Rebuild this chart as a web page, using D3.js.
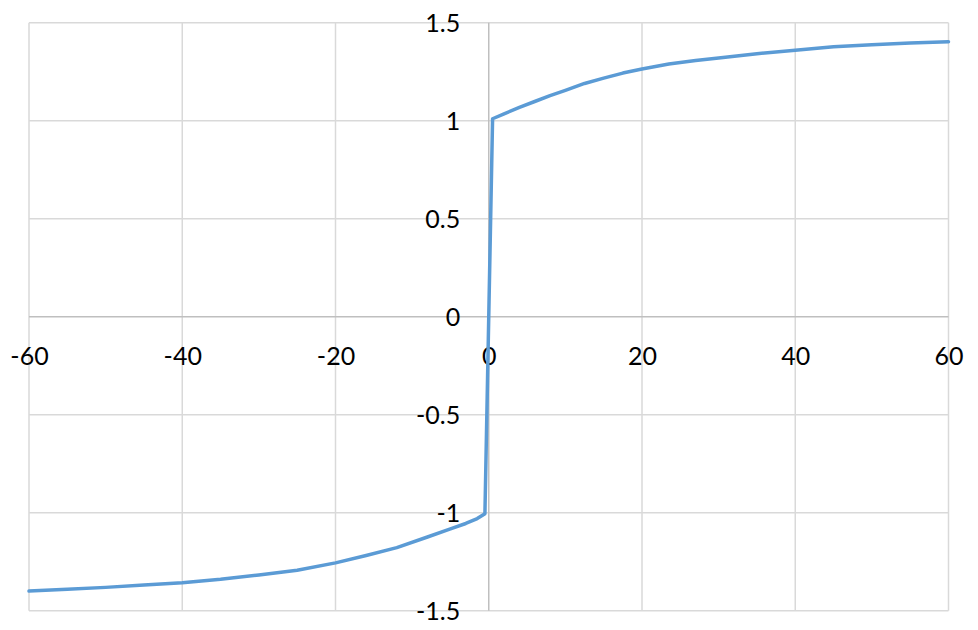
<!DOCTYPE html>
<html>
<head>
<meta charset="utf-8">
<script src="https://cdn.jsdelivr.net/npm/d3@7"></script>
<style>
  html, body { margin: 0; padding: 0; background: #fff; }
  svg { display: block; }
  text { font-family: Lato, "Open Sans", sans-serif; fill: #000; }
</style>
</head>
<body>
<svg id="chart" width="978" height="630"></svg>
<script>
// Data
const xValues = [-60, -55, -50, -45, -40, -35, -30, -25, -20, -16, -12, -8, -5, -3, -1.5, -0.5, 0,
                 0.5, 2, 4, 6, 8, 10, 12.5, 15, 17.5, 20, 23.5, 27, 30, 35, 40, 45, 50, 55, 60];
const yValues = [-1.400, -1.391, -1.381, -1.369, -1.357, -1.340, -1.318, -1.294, -1.256, -1.218, -1.178, -1.124, -1.083, -1.055, -1.030, -1.005, 0,
                 1.010, 1.035, 1.068, 1.098, 1.128, 1.155, 1.190, 1.217, 1.243, 1.264, 1.289, 1.307, 1.320, 1.342, 1.360, 1.377, 1.388, 1.396, 1.403];
const xTicks = [-60, -40, -20, 0, 20, 40, 60];
const yTicks = [-1.5, -1, -0.5, 0, 0.5, 1, 1.5];

const svg = d3.select("#chart");
const x = d3.scaleLinear().domain([-60, 60]).range([29, 948.5]);
const y = d3.scaleLinear().domain([-1.5, 1.5]).range([610.7, 22.7]);

// Gridlines
const grid = svg.append("g");
grid.selectAll("line.v").data(xTicks.filter(d => d !== 0)).join("line")
  .attr("x1", d => x(d)).attr("x2", d => x(d))
  .attr("y1", y(1.5)).attr("y2", y(-1.5))
  .attr("stroke", "#D9D9D9").attr("stroke-width", 1.5);
grid.selectAll("line.h").data(yTicks.filter(d => d !== 0)).join("line")
  .attr("y1", d => y(d)).attr("y2", d => y(d))
  .attr("x1", x(-60)).attr("x2", x(60))
  .attr("stroke", "#D9D9D9").attr("stroke-width", 1.5);

// Axis lines through zero
svg.append("line").attr("x1", x(-60)).attr("x2", x(60)).attr("y1", y(0)).attr("y2", y(0))
  .attr("stroke", "#BFBFBF").attr("stroke-width", 1.5);
svg.append("line").attr("x1", x(0)).attr("x2", x(0)).attr("y1", y(1.5)).attr("y2", y(-1.5))
  .attr("stroke", "#BFBFBF").attr("stroke-width", 1.5);

// Axes labels via d3 axes
const fmt = d => String(d);
const xAxis = d3.axisBottom(x).tickValues(xTicks).tickSize(0).tickPadding(0).tickFormat(fmt);
const gx = svg.append("g").attr("transform", `translate(0,${y(0) + 48.5})`).call(xAxis);
gx.select(".domain").remove();
gx.selectAll("text").attr("font-size", 25).attr("dy", 0).attr("y", 0)
  .style("font-family", "Lato, 'Open Sans', sans-serif").attr("fill", "#000");

const yAxis = d3.axisLeft(y).tickValues(yTicks).tickSize(0).tickPadding(0).tickFormat(fmt);
const gy = svg.append("g").attr("transform", `translate(${x(0) - 28.5},0)`).call(yAxis);
gy.select(".domain").remove();
gy.selectAll("text").attr("font-size", 25).attr("dy", "0.36em").attr("x", 0)
  .style("font-family", "Lato, 'Open Sans', sans-serif").attr("fill", "#000");

// Data line
const data = xValues.map((v, i) => [v, yValues[i]]);
svg.append("path").datum(data)
  .attr("fill", "none").attr("stroke", "#5B9BD5").attr("stroke-width", 3.5)
  .attr("stroke-linejoin", "round").attr("stroke-linecap", "round")
  .attr("d", d3.line().x(d => x(d[0])).y(d => y(d[1])));
</script>
</body>
</html>
